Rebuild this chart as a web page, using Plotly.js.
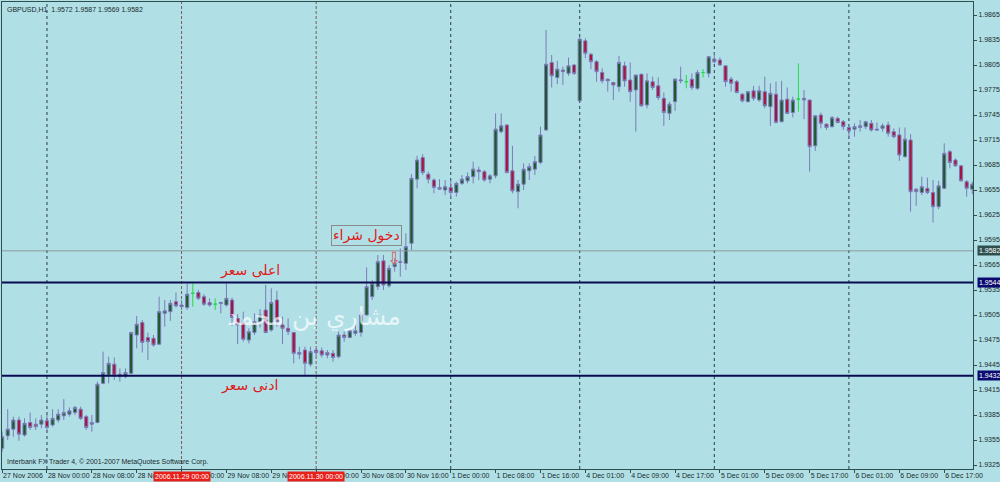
<!DOCTYPE html>
<html>
<head>
<meta charset="utf-8">
<script src="https://cdn.plot.ly/plotly-3.0.1.min.js"></script>
<style>
html,body{margin:0;padding:0;background:#b0e0e6;}
#chart{width:1000px;height:482px;}
</style>
</head>
<body>
<div id="chart"></div>
<script>
// GBPUSD H1, 27 Nov 2006 16:00 .. 6 Dec 2006 22:00 (one value per hourly bar)
const openP = [
1.9345,1.9360,1.9368,1.9379,1.9361,1.9376,1.9374,1.9374,1.9378,1.9373,
1.9379,1.9384,1.9386,1.9388,1.9392,1.9383,1.9376,1.9376,1.9423,1.9433,
1.9446,1.9434,1.9431,1.9435,1.9481,1.9496,1.9478,1.9477,1.9470,1.9507,
1.9509,1.9521,1.9517,1.9514,1.9531,1.9532,1.9527,1.9520,1.9518,1.9520,
1.9517,1.9523,1.9501,1.9496,1.9475,1.9484,1.9497,1.9511,1.9487,1.9523,
1.9493,1.9489,1.9484,1.9460,1.9463,1.9446,1.9463,1.9462,1.9457,1.9459,
1.9455,1.9481,1.9478,1.9483,1.9484,1.9505,1.9527,1.9539,1.9570,1.9540,
1.9563,1.9569,1.9567,1.9591,1.9668,1.9694,1.9674,1.9667,1.9658,1.9655,
1.9658,1.9652,1.9663,1.9666,1.9671,1.9679,1.9677,1.9668,1.9672,1.9725,
1.9733,1.9678,1.9653,1.9662,1.9678,1.9680,1.9688,1.9727,1.9808,1.9790,
1.9799,1.9795,1.9805,1.9762,1.9834,1.9818,1.9809,1.9796,1.9788,1.9784,
1.9779,1.9804,1.9787,1.9775,1.9794,1.9757,1.9785,1.9780,1.9765,1.9747,
1.9761,1.9786,1.9785,1.9788,1.9777,1.9796,1.9795,1.9812,1.9811,1.9804,
1.9788,1.9785,1.9770,1.9761,1.9774,1.9763,1.9773,1.9755,1.9770,1.9737,
1.9764,1.9748,1.9764,1.9765,1.9763,1.9708,1.9745,1.9734,1.9731,1.9741,
1.9737,1.9730,1.9728,1.9730,1.9731,1.9735,1.9728,1.9729,1.9733,1.9725,
1.9721,1.9695,1.9715,1.9656,1.9652,1.9657,1.9652,1.9635,1.9657,1.9701,
1.9691,1.9684,1.9665,1.9656
];
const highP = [
1.9365,1.9392,1.9383,1.9383,1.9381,1.9388,1.9381,1.9385,1.9385,1.9392,
1.9392,1.9404,1.9394,1.9396,1.9395,1.9385,1.9385,1.9425,1.9461,1.9455,
1.9454,1.9441,1.9441,1.9485,1.9504,1.9499,1.9484,1.9481,1.9527,1.9523,
1.9523,1.9532,1.9523,1.9543,1.9543,1.9535,1.9530,1.9525,1.9525,1.9521,
1.9543,1.9526,1.9506,1.9509,1.9489,1.9507,1.9512,1.9541,1.9537,1.9534,
1.9503,1.9501,1.9485,1.9467,1.9467,1.9467,1.9465,1.9466,1.9463,1.9463,
1.9485,1.9485,1.9486,1.9493,1.9509,1.9562,1.9547,1.9577,1.9577,1.9565,
1.9573,1.9585,1.9603,1.9674,1.9696,1.9698,1.9677,1.9669,1.9668,1.9667,
1.9667,1.9665,1.9673,1.9676,1.9689,1.9683,1.9679,1.9674,1.9747,1.9747,
1.9734,1.9708,1.9667,1.9687,1.9687,1.9696,1.9731,1.9847,1.9817,1.9810,
1.9803,1.9814,1.9806,1.9839,1.9837,1.9819,1.9811,1.9801,1.9789,1.9785,
1.9816,1.9809,1.9808,1.9793,1.9794,1.9795,1.9791,1.9790,1.9772,1.9761,
1.9789,1.9803,1.9793,1.9795,1.9799,1.9800,1.9815,1.9820,1.9814,1.9804,
1.9791,1.9787,1.9771,1.9774,1.9780,1.9780,1.9791,1.9783,1.9785,1.9786,
1.9778,1.9767,1.9807,1.9775,1.9763,1.9745,1.9748,1.9735,1.9744,1.9743,
1.9739,1.9732,1.9735,1.9739,1.9738,1.9739,1.9736,1.9735,1.9737,1.9729,
1.9730,1.9730,1.9722,1.9657,1.9671,1.9670,1.9667,1.9666,1.9711,1.9703,
1.9693,1.9685,1.9667,1.9665
];
const lowP = [
1.9341,1.9355,1.9359,1.9354,1.9359,1.9367,1.9367,1.9369,1.9365,1.9371,
1.9376,1.9379,1.9383,1.9385,1.9379,1.9367,1.9365,1.9375,1.9422,1.9423,
1.9427,1.9425,1.9429,1.9434,1.9465,1.9460,1.9451,1.9467,1.9469,1.9491,
1.9498,1.9514,1.9511,1.9511,1.9515,1.9523,1.9516,1.9515,1.9511,1.9507,
1.9515,1.9492,1.9470,1.9473,1.9471,1.9481,1.9490,1.9483,1.9485,1.9491,
1.9470,1.9481,1.9447,1.9452,1.9433,1.9443,1.9455,1.9454,1.9453,1.9449,
1.9453,1.9473,1.9477,1.9480,1.9479,1.9505,1.9523,1.9535,1.9535,1.9538,
1.9557,1.9551,1.9559,1.9583,1.9657,1.9673,1.9663,1.9651,1.9655,1.9649,
1.9645,1.9647,1.9661,1.9663,1.9663,1.9667,1.9665,1.9663,1.9669,1.9723,
1.9675,1.9651,1.9633,1.9655,1.9667,1.9673,1.9686,1.9726,1.9778,1.9782,
1.9781,1.9792,1.9793,1.9762,1.9813,1.9800,1.9785,1.9783,1.9773,1.9763,
1.9773,1.9779,1.9761,1.9725,1.9755,1.9753,1.9775,1.9763,1.9732,1.9739,
1.9750,1.9783,1.9777,1.9775,1.9775,1.9790,1.9790,1.9807,1.9804,1.9779,
1.9773,1.9771,1.9760,1.9760,1.9762,1.9761,1.9753,1.9732,1.9735,1.9736,
1.9746,1.9742,1.9749,1.9740,1.9677,1.9702,1.9729,1.9727,1.9730,1.9735,
1.9727,1.9716,1.9719,1.9725,1.9728,1.9725,1.9726,1.9725,1.9719,1.9717,
1.9690,1.9694,1.9629,1.9636,1.9649,1.9650,1.9616,1.9632,1.9656,1.9681,
1.9683,1.9665,1.9647,1.9650
];
const closeP = [
1.9359,1.9368,1.9379,1.9362,1.9375,1.9370,1.9371,1.9379,1.9370,1.9381,
1.9386,1.9388,1.9390,1.9394,1.9381,1.9370,1.9374,1.9422,1.9436,1.9447,
1.9432,1.9431,1.9436,1.9484,1.9494,1.9472,1.9473,1.9469,1.9509,1.9510,
1.9519,1.9516,1.9515,1.9530,1.9531,1.9525,1.9518,1.9517,1.9518,1.9519,
1.9525,1.9502,1.9493,1.9476,1.9485,1.9497,1.9505,1.9484,1.9520,1.9497,
1.9489,1.9485,1.9459,1.9458,1.9447,1.9461,1.9460,1.9457,1.9460,1.9454,
1.9481,1.9478,1.9486,1.9486,1.9505,1.9539,1.9543,1.9569,1.9541,1.9561,
1.9567,1.9568,1.9587,1.9669,1.9691,1.9676,1.9668,1.9658,1.9656,1.9659,
1.9652,1.9663,1.9668,1.9671,1.9680,1.9677,1.9667,1.9672,1.9728,1.9732,
1.9676,1.9654,1.9662,1.9680,1.9683,1.9689,1.9721,1.9806,1.9792,1.9800,
1.9797,1.9804,1.9795,1.9836,1.9819,1.9809,1.9797,1.9786,1.9786,1.9781,
1.9808,1.9786,1.9773,1.9793,1.9756,1.9786,1.9778,1.9766,1.9748,1.9758,
1.9788,1.9787,1.9785,1.9778,1.9796,1.9796,1.9815,1.9809,1.9805,1.9785,
1.9783,1.9772,1.9762,1.9773,1.9765,1.9774,1.9756,1.9771,1.9736,1.9763,
1.9747,1.9763,1.9764,1.9763,1.9707,1.9744,1.9735,1.9730,1.9742,1.9736,
1.9731,1.9726,1.9731,1.9732,1.9737,1.9727,1.9727,1.9732,1.9723,1.9719,
1.9697,1.9716,1.9653,1.9653,1.9659,1.9652,1.9635,1.9660,1.9699,1.9688,
1.9684,1.9666,1.9657,1.9662
];
// time axis labels (every 8th bar) and their bar numbers
const tickBars = [0,8,16,24,32,40,48,56,64,72,80,88,96,104,112,120,128,136,144,152,160,168];
const tickLabels = ["27 Nov 2006","28 Nov 00:00","28 Nov 08:00","28 Nov 16:00","29 Nov 00:00","29 Nov 08:00",
  "29 Nov 16:00","30 Nov 00:00","30 Nov 08:00","30 Nov 16:00","1 Dec 00:00","1 Dec 08:00","1 Dec 16:00",
  "4 Dec 01:00","4 Dec 09:00","4 Dec 17:00","5 Dec 01:00","5 Dec 09:00","5 Dec 17:00","6 Dec 01:00",
  "6 Dec 09:00","6 Dec 17:00"];
// day separators (first bar of each day) and vertical line objects
const daySeparators = [8,80,103,127,151];
const vLineBars = [32,56];
const vLineLabels = ["2006.11.29 00:00","2006.11.30 00:00"];
// horizontal levels
const highLevel = 1.9544, lowLevel = 1.9432, bidLevel = 1.9582;

const bars = openP.map((_, i) => i);
const isDoji = openP.map((o, i) => o === closeP[i]);
const pick = (arr, keep) => arr.filter((_, i) => isDoji[i] === keep);

const wick = '#7b7bb8';
const traces = [
  {
    type: 'candlestick', x: pick(bars,false), open: pick(openP,false), high: pick(highP,false),
    low: pick(lowP,false), close: pick(closeP,false),
    increasing: {line: {color: wick, width: 1}, fillcolor: '#1d5a2a'},
    decreasing: {line: {color: wick, width: 1}, fillcolor: '#a8123c'},
    whiskerwidth: 0, hoverinfo: 'skip', showlegend: false
  },
  {
    type: 'candlestick', x: pick(bars,true), open: pick(openP,true), high: pick(highP,true),
    low: pick(lowP,true), close: pick(closeP,true),
    increasing: {line: {color: '#22dd44', width: 1}, fillcolor: '#22dd44'},
    decreasing: {line: {color: '#22dd44', width: 1}, fillcolor: '#22dd44'},
    whiskerwidth: 0, hoverinfo: 'skip', showlegend: false
  }
];

const shapes = [];
daySeparators.forEach(b => shapes.push({type:'line', xref:'x', yref:'paper', x0:b, x1:b, y0:0, y1:1,
  line:{color:'#2a3a4a', width:1, dash:'dot'}, layer:'below'}));
vLineBars.forEach(b => shapes.push({type:'line', xref:'x', yref:'paper', x0:b, x1:b, y0:0, y1:1,
  line:{color:'#7a5a5a', width:1, dash:'3px,2px'}, layer:'below'}));
shapes.push({type:'line', xref:'paper', yref:'y', x0:0, x1:1, y0:bidLevel, y1:bidLevel, line:{color:'#8a9a9c', width:1}});
shapes.push({type:'line', xref:'paper', yref:'y', x0:0, x1:1, y0:highLevel, y1:highLevel, line:{color:'#0a0a50', width:2}});
shapes.push({type:'line', xref:'paper', yref:'y', x0:0, x1:1, y0:lowLevel, y1:lowLevel, line:{color:'#0a0a50', width:2}});

const small = {family:'Liberation Sans, Arial, sans-serif', size:7, color:'#1a2a2a'};
const arab = {family:'DejaVu Sans, sans-serif', size:14, color:'#e01818'};
const annotations = [
  {xref:'paper', yref:'paper', x:0.003, y:0.995, xanchor:'left', yanchor:'top', showarrow:false,
   text:'GBPUSD,H1  1.9572 1.9587 1.9569 1.9582', font:small},
  {xref:'paper', yref:'paper', x:0.003, y:0.003, xanchor:'left', yanchor:'bottom', showarrow:false,
   text:'Interbank FX Trader 4, © 2001-2007 MetaQuotes Software Corp.', font:small},
  {xref:'x', yref:'y', x:44.2, y:1.9559, showarrow:false, text:'اعلى سعر', font:arab},
  {xref:'x', yref:'y', x:44.2, y:1.9420, showarrow:false, text:'ادنى سعر', font:arab},
  {xref:'x', yref:'y', x:65.0, y:1.9601, showarrow:false, text:'دخول شراء', font:arab,
   bordercolor:'#8a8a8a', borderwidth:1, borderpad:1},
  {xref:'x', yref:'y', x:69.8, y:1.9573, showarrow:false, text:'⇩',
   font:{family:'DejaVu Sans, sans-serif', size:17, color:'#d86060'}},
  {xref:'x', yref:'y', x:55.6, y:1.9503, showarrow:false, text:'مشاري بن محمد',
   font:{family:'DejaVu Sans, sans-serif', size:25, color:'rgba(255,255,255,0.7)'}},
  // price tags on the right scale
  {xref:'paper', yref:'y', x:1.004, y:bidLevel, xanchor:'left', showarrow:false, text:'1.9582',
   font:{family:'Liberation Sans, Arial, sans-serif', size:7, color:'#ffffff'}, bgcolor:'#2f4f4f', borderpad:1},
  {xref:'paper', yref:'y', x:1.004, y:highLevel, xanchor:'left', showarrow:false, text:'1.9544',
   font:{family:'Liberation Sans, Arial, sans-serif', size:7, color:'#ffffff'}, bgcolor:'#0a0a70', borderpad:1},
  {xref:'paper', yref:'y', x:1.004, y:lowLevel, xanchor:'left', showarrow:false, text:'1.9432',
   font:{family:'Liberation Sans, Arial, sans-serif', size:7, color:'#ffffff'}, bgcolor:'#0a0a70', borderpad:1}
];
vLineBars.forEach((b, k) => annotations.push({xref:'x', yref:'paper', x:b, y:-0.004, yanchor:'top', showarrow:false,
  text:vLineLabels[k], font:{family:'Liberation Sans, Arial, sans-serif', size:7, color:'#ffffff'},
  bgcolor:'#e8201a', borderpad:1}));

const layout = {
  width:1000, height:482,
  margin:{l:2, r:27, t:2, b:13},
  paper_bgcolor:'#b0e0e6', plot_bgcolor:'#b0e0e6',
  showlegend:false, hovermode:false, dragmode:false,
  xaxis:{range:[-0.02, 173.13], rangeslider:{visible:false}, showgrid:false, zeroline:false,
    showline:true, mirror:true, linecolor:'#2f4f4f', linewidth:1,
    tickmode:'array', tickvals:tickBars, ticktext:tickLabels, ticks:'outside', ticklen:3, tickcolor:'#2f4f4f',
    ticklabelposition:'outside right', tickfont:small, tickangle:0, fixedrange:true},
  yaxis:{range:[1.93202, 1.98806], side:'right', showgrid:false, zeroline:false,
    showline:true, mirror:true, linecolor:'#2f4f4f', linewidth:1,
    tick0:1.9325, dtick:0.003, tickformat:'.4f', ticks:'outside', ticklen:3, tickcolor:'#2f4f4f',
    tickfont:small, fixedrange:true},
  shapes:shapes, annotations:annotations,
  boxgap:0.2
};
Plotly.newPlot('chart', traces, layout, {displayModeBar:false, staticPlot:true});
</script>
</body>
</html>
